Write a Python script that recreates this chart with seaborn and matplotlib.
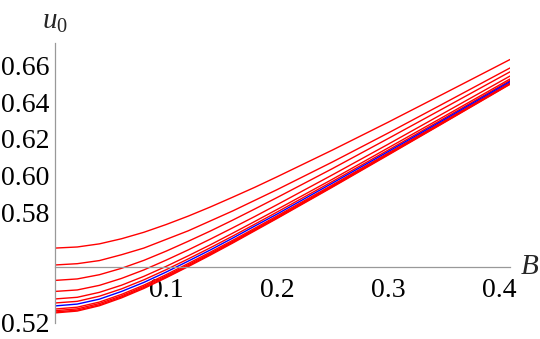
import numpy as np
import pandas as pd
import matplotlib
matplotlib.use("Agg")
import matplotlib.pyplot as plt
import seaborn as sns
from matplotlib.ticker import MultipleLocator, FuncFormatter

# ---- data ----
B = [0.0, 0.02, 0.04, 0.06, 0.08, 0.10, 0.12, 0.14, 0.16, 0.18, 0.20,
     0.25, 0.30, 0.35, 0.41]

u_r1 = [0.5605, 0.5611, 0.5628, 0.5656, 0.5691, 0.5733, 0.5779, 0.5829,
        0.5882, 0.5936, 0.5993, 0.6139, 0.6290, 0.6445, 0.6632]
u_r2 = [0.5513, 0.5520, 0.5537, 0.5569, 0.5605, 0.5652, 0.5699, 0.5753,
        0.5807, 0.5865, 0.5923, 0.6074, 0.6231, 0.6392, 0.6586]
u_r3 = [0.5429, 0.5437, 0.5460, 0.5495, 0.5538, 0.5588, 0.5642, 0.5698,
        0.5757, 0.5818, 0.5880, 0.6038, 0.6201, 0.6366, 0.6565]
u_r4 = [0.5369, 0.5377, 0.5402, 0.5440, 0.5486, 0.5539, 0.5595, 0.5654,
        0.5715, 0.5777, 0.5841, 0.6004, 0.6170, 0.6339, 0.6542]
u_r5 = [0.5328, 0.5337, 0.5364, 0.5403, 0.5451, 0.5505, 0.5563, 0.5623,
        0.5686, 0.5750, 0.5815, 0.5980, 0.6150, 0.6320, 0.6526]
u_r6 = [0.5306, 0.5315, 0.5343, 0.5383, 0.5432, 0.5487, 0.5546, 0.5607,
        0.5670, 0.5735, 0.5801, 0.5968, 0.6138, 0.6310, 0.6518]
u_blue = [0.5290, 0.5300, 0.5327, 0.5369, 0.5418, 0.5474, 0.5534, 0.5595,
          0.5659, 0.5725, 0.5790, 0.5959, 0.6130, 0.6303, 0.6512]
u_r7 = [0.5273, 0.5283, 0.5311, 0.5353, 0.5403, 0.5460, 0.5521, 0.5583,
        0.5647, 0.5713, 0.5780, 0.5949, 0.6122, 0.6296, 0.6505]
u_r8 = [0.5264, 0.5274, 0.5303, 0.5345, 0.5396, 0.5453, 0.5514, 0.5576,
        0.5641, 0.5707, 0.5774, 0.5944, 0.6117, 0.6292, 0.6502]
u_r9 = [0.5257, 0.5267, 0.5296, 0.5339, 0.5390, 0.5447, 0.5508, 0.5571,
        0.5636, 0.5703, 0.5769, 0.5940, 0.6114, 0.6288, 0.6499]
u_r10 = [0.5252, 0.5262, 0.5291, 0.5334, 0.5385, 0.5443, 0.5504, 0.5567,
         0.5632, 0.5699, 0.5766, 0.5937, 0.6111, 0.6286, 0.6497]

red_series = {"r1": u_r1, "r2": u_r2, "r3": u_r3, "r4": u_r4, "r5": u_r5,
              "r6": u_r6, "r7": u_r7, "r8": u_r8, "r9": u_r9, "r10": u_r10}
blue_series = {"blue": u_blue}

x_ticks_labels = ["0.1", "0.2", "0.3", "0.4"]
y_ticks_labels = ["0.52", "0.58", "0.60", "0.62", "0.64", "0.66"]

# ---- build long-form table ----
rows = []
for name, vals in list(red_series.items()) + list(blue_series.items()):
    for b, u in zip(B, vals):
        rows.append({"B": b, "u": u, "curve": name})
df = pd.DataFrame(rows)
order = list(red_series.keys()) + list(blue_series.keys())
palette = {k: "#ff0000" for k in red_series}
palette["blue"] = "#0000ff"

# ---- style ----
sns.set_style("white")
plt.rcParams["font.family"] = ["Liberation Serif", "DejaVu Serif"]
plt.rcParams["mathtext.fontset"] = "custom"
plt.rcParams["mathtext.rm"] = "Liberation Serif"
plt.rcParams["mathtext.it"] = "Liberation Serif:italic"

fig = plt.figure(figsize=(5.4, 3.39), dpi=100)
ax = fig.add_axes([0.1019, 0.0472, 0.8426, 0.826])

sns.lineplot(data=df, x="B", y="u", hue="curve", hue_order=order,
             palette=palette, estimator=None, sort=False, legend=False,
             lw=1.0, ax=ax)

ax.set_xlim(0, 0.41)
ax.set_ylim(0.5197, 0.6722)
ax.set_xlabel("")
ax.set_ylabel("")

for s in ["top", "right"]:
    ax.spines[s].set_visible(False)
ax.spines["left"].set_position(("data", 0))
ax.spines["bottom"].set_position(("data", 0.55))
for s in ["left", "bottom"]:
    ax.spines[s].set_color("#999999")
    ax.spines[s].set_linewidth(0.9)

ax.xaxis.set_major_locator(MultipleLocator(0.1))
ax.xaxis.set_minor_locator(MultipleLocator(0.02))
ax.yaxis.set_major_locator(MultipleLocator(0.02))
ax.yaxis.set_minor_locator(MultipleLocator(0.005))


def xfmt(v, pos):
    s = f"{v:.1f}"
    return s if s in x_ticks_labels else ""


def yfmt(v, pos):
    s = f"{v:.2f}"
    return s if s in y_ticks_labels else ""


ax.xaxis.set_major_formatter(FuncFormatter(xfmt))
ax.yaxis.set_major_formatter(FuncFormatter(yfmt))
ax.tick_params(which="both", direction="in", color="#999999", width=0.8,
               labelsize=20, labelcolor="black")
ax.tick_params(which="major", length=3)
ax.tick_params(which="minor", length=1.6)
ax.tick_params(axis="x", which="major", pad=7.5)
ax.tick_params(axis="y", which="major", pad=4)

fig.text(55 / 540, 1 - 22 / 339, r"$u_0$", ha="center", va="center", fontsize=21)
fig.text(530 / 540, 1 - 267 / 339, r"$B$", ha="center", va="center", fontsize=21)

fig.savefig("out.png", dpi=100)
